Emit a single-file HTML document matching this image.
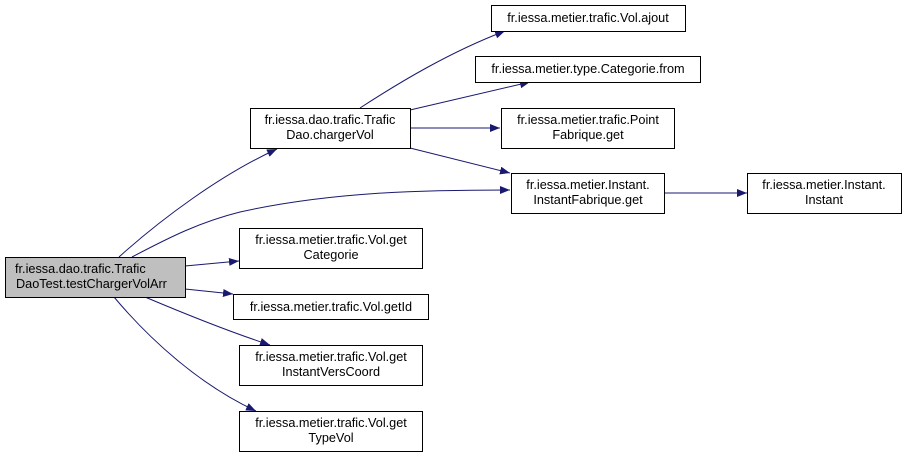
<!DOCTYPE html>
<html><head><style>body{margin:0;background:#fff}svg{display:block}text{font-family:"Liberation Sans",Arial,sans-serif;font-size:12.7px;fill:#000}</style></head><body>
<svg width="907" height="457" viewBox="0 0 907 457">
<defs><marker id="a" markerWidth="10" markerHeight="8" refX="10" refY="4" orient="auto" markerUnits="userSpaceOnUse"><path d="M0,0 L10,4 L0,8 z" fill="#191970"/></marker></defs>
<g fill="none" stroke="#191970" stroke-width="1" marker-end="url(#a)">
<path d="M119,257 C160,220 220,175 277,149"/>
<path d="M132,257 C170,237 200,222 240,212 C330,192 420,190 510,190"/>
<path d="M185,266 L239,261"/>
<path d="M185,289 L233,294"/>
<path d="M145,297 C190,316 230,332 270,345"/>
<path d="M114,297 C150,340 200,385 256,411"/>
<path d="M360,108 C400,82 450,52 505,31"/>
<path d="M410,110 L530,82"/>
<path d="M410,128 L500,128"/>
<path d="M410,148 L510,173"/>
<path d="M664,193 L747,193"/>
</g>
<g stroke="#000" stroke-width="1">
<rect x="5.5" y="257.5" width="180" height="40" fill="#bfbfbf"/>
<rect x="250.5" y="108.5" width="160" height="40" fill="#fff"/>
<rect x="239.5" y="228.5" width="183" height="40" fill="#fff"/>
<rect x="233.5" y="294.5" width="195" height="25" fill="#fff"/>
<rect x="239.5" y="345.5" width="183" height="40" fill="#fff"/>
<rect x="239.5" y="411.5" width="183" height="40" fill="#fff"/>
<rect x="491.5" y="5.5" width="194" height="26" fill="#fff"/>
<rect x="475.5" y="56.5" width="225" height="26" fill="#fff"/>
<rect x="501.5" y="108.5" width="173" height="40" fill="#fff"/>
<rect x="511.5" y="173.5" width="153" height="40" fill="#fff"/>
<rect x="747.5" y="173.5" width="154" height="40" fill="#fff"/>
</g>
<text x="15" y="273">fr.iessa.dao.trafic.Trafic</text><text x="16" y="288">DaoTest.testChargerVolArr</text>
<g text-anchor="middle">
<text x="330" y="124">fr.iessa.dao.trafic.Trafic</text><text x="330" y="139">Dao.chargerVol</text>
<text x="331" y="244">fr.iessa.metier.trafic.Vol.get</text><text x="331" y="259">Categorie</text>
<text x="331" y="311">fr.iessa.metier.trafic.Vol.getId</text>
<text x="331" y="361">fr.iessa.metier.trafic.Vol.get</text><text x="331" y="376">InstantVersCoord</text>
<text x="331" y="427">fr.iessa.metier.trafic.Vol.get</text><text x="331" y="442">TypeVol</text>
<text x="588" y="22">fr.iessa.metier.trafic.Vol.ajout</text>
<text x="588" y="73">fr.iessa.metier.type.Categorie.from</text>
<text x="588" y="124">fr.iessa.metier.trafic.Point</text><text x="588" y="139">Fabrique.get</text>
<text x="588" y="189">fr.iessa.metier.Instant.</text><text x="588" y="204">InstantFabrique.get</text>
<text x="824" y="189">fr.iessa.metier.Instant.</text><text x="824" y="204">Instant</text>
</g>
</svg>
</body></html>
